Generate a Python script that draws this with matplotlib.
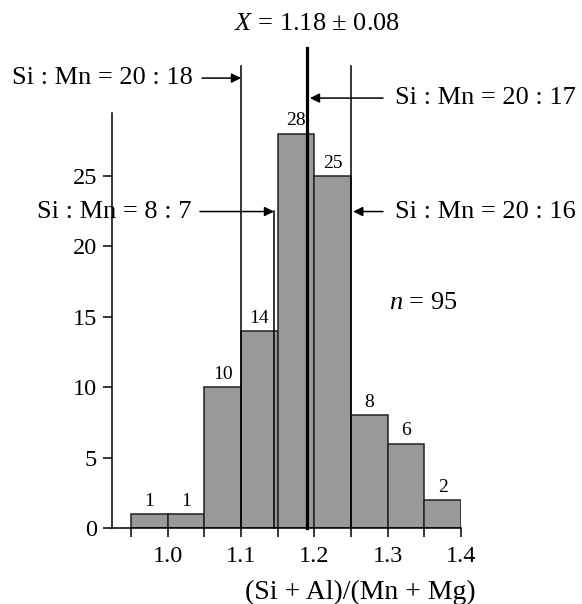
import matplotlib
matplotlib.use("Agg")
import matplotlib.pyplot as plt
import numpy as np

# ---- data ----
bin_edges = [0.95, 1.00, 1.05, 1.10, 1.15, 1.20, 1.25, 1.30, 1.35, 1.40]
counts = [1, 1, 10, 14, 28, 25, 8, 6, 2]
xtick_vals = [1.0, 1.1, 1.2, 1.3, 1.4]
xtick_labels = ["1.0", "1.1", "1.2", "1.3", "1.4"]
ytick_vals = [0, 5, 10, 15, 20, 25]
ratio_labels = ["Si : Mn = 20 : 18", "Si : Mn = 8 : 7", "Si : Mn = 20 : 17", "Si : Mn = 20 : 16"]
ratio_lines = [1.10, 1.145, 1.19, 1.25]   # positions of vertical marker lines
mean_value = 1.19
mean_label = r"$X$ = 1.18 ± 0.08"
n_label = r"$n$ = 95"
xlabel = "(Si + Al)/(Mn + Mg)"

plt.rcParams["font.family"] = ["Liberation Serif", "DejaVu Serif"]
plt.rcParams["mathtext.fontset"] = "custom"
plt.rcParams["mathtext.rm"] = "Liberation Serif"
plt.rcParams["mathtext.it"] = "Liberation Serif:italic"

fig = plt.figure(figsize=(5.82, 6.04), dpi=100)
ax = fig.add_axes([0.1919, 0.1258, 0.6002, 0.6876])

left = np.array(bin_edges[:-1])
widths = np.diff(bin_edges)
ax.bar(left, counts, width=widths, align="edge", color="#999999",
       edgecolor="#222222", linewidth=1.1, zorder=2)

for l, w, c in zip(left, widths, counts):
    ax.annotate(str(c), (l + w / 2, c), xytext=(0, 6), textcoords="offset points",
                ha="center", va="baseline", fontsize=14)

ax.set_xlim(0.9236, 1.4)
ax.set_ylim(0, 29.5)
ax.spines["top"].set_visible(False)
ax.spines["right"].set_visible(False)
for s in ("left", "bottom"):
    ax.spines[s].set_linewidth(1.1)

ax.set_xticks(xtick_vals)
ax.set_xticklabels(xtick_labels)
ax.set_xticks(bin_edges, minor=True)
ax.set_yticks(ytick_vals)
ax.tick_params(axis="both", which="both", direction="out", length=6.5, width=1.1,
               labelsize=17.5)
ax.tick_params(axis="x", which="major", pad=6.5)
ax.tick_params(axis="y", pad=4)

# vertical marker lines
thin_top = 32.84
for xv in (ratio_lines[0], ratio_lines[1], ratio_lines[3]):
    top = 22.5 if xv == ratio_lines[1] else thin_top
    ax.plot([xv, xv], [0, top], color="black", lw=1.1, clip_on=False, zorder=3)
ax.plot([mean_value, mean_value], [0, 34.1], color="black", lw=2.3, clip_on=False, zorder=4)

arrow_kw = dict(arrowstyle="-|>", color="black", lw=1.1, mutation_scale=14,
                shrinkA=0, shrinkB=0)
fs = 19
# 20:18
ax.annotate("", xy=(ratio_lines[0], 31.96), xytext=(1.0468, 31.96),
            arrowprops=arrow_kw, annotation_clip=False)
ax.text(1.0345, 31.96, ratio_labels[0], ha="right", va="center", fontsize=fs, clip_on=False)
# 8:7
ax.annotate("", xy=(ratio_lines[1], 22.48), xytext=(1.044, 22.48),
            arrowprops=arrow_kw, annotation_clip=False)
ax.text(1.0327, 22.48, ratio_labels[1], ha="right", va="center", fontsize=fs, clip_on=False)
# 20:17
ax.annotate("", xy=(mean_value + 0.004, 30.54), xytext=(1.2936, 30.54),
            arrowprops=arrow_kw, annotation_clip=False)
ax.text(1.31, 30.54, ratio_labels[2], ha="left", va="center", fontsize=fs, clip_on=False)
# 20:16
ax.annotate("", xy=(ratio_lines[3] + 0.003, 22.48), xytext=(1.2936, 22.48),
            arrowprops=arrow_kw, annotation_clip=False)
ax.text(1.31, 22.48, ratio_labels[3], ha="left", va="center", fontsize=fs, clip_on=False)

ax.text(1.2036, 35.8, mean_label, ha="center", va="center", fontsize=fs, clip_on=False)
ax.text(1.348, 16.0, n_label, ha="center", va="center", fontsize=fs, clip_on=False)
ax.text(1.263, -4.55, xlabel, ha="center", va="center", fontsize=20, clip_on=False)

fig.savefig("out.png", dpi=100)
